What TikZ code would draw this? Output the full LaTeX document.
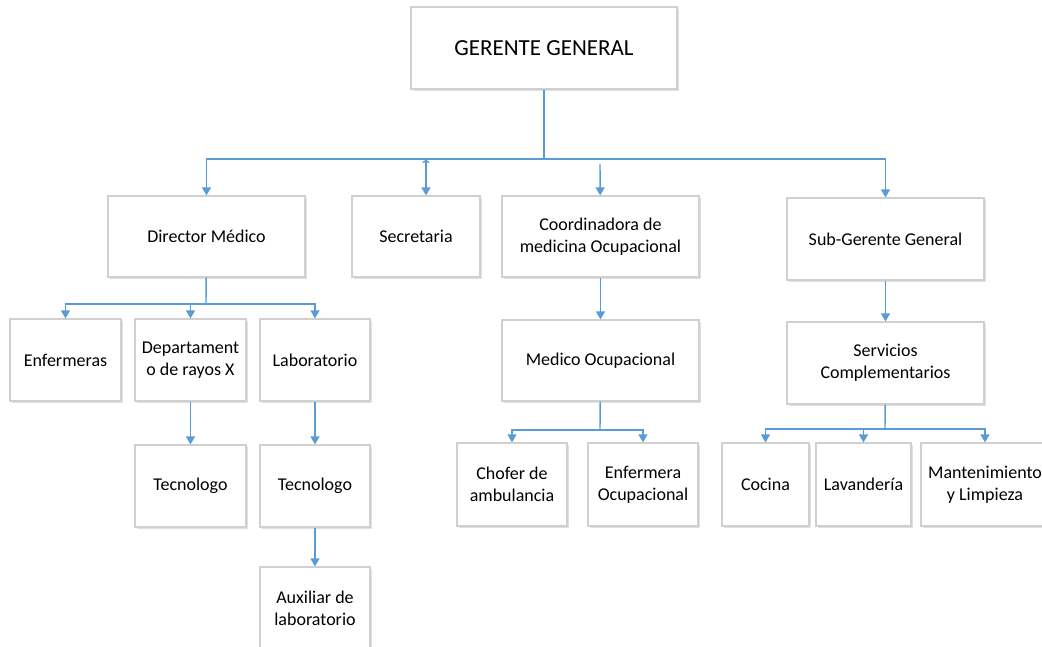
\documentclass[tikz,border=0pt]{standalone}
\usepackage{fontspec}
\setmainfont{Carlito}
\usepackage{tikz}
\usetikzlibrary{positioning,arrows.meta,shadows}
\definecolor{linkblue}{HTML}{5B9BD5}
\definecolor{boxgray}{HTML}{D0D0D0}
\tikzstyle{orgbox}=[draw=boxgray,line width=1.2pt,fill=white,inner sep=0pt,align=center,
  minimum height=82pt,font=\fontsize{18}{22}\selectfont,
  drop shadow={shadow xshift=1.5pt,shadow yshift=-1.5pt,opacity=0.12,fill=black}]
\tikzstyle{widebox}=[orgbox,minimum width=197pt]
\tikzstyle{smallbox}=[orgbox,minimum width=111pt]
\tikzstyle{line}=[draw=linkblue,line width=1.4pt]
\tikzstyle{link}=[line,-{Triangle[length=8pt,width=9pt]}]

\begin{document}
\begin{tikzpicture}[x=1pt,y=-1pt]
\useasboundingbox (0,0) rectangle (1042,646);
% top level
\node(ger)[orgbox,minimum width=266pt,font=\fontsize{23}{27}\selectfont] at (544,48) {GERENTE GENERAL};
\node(dir)[widebox,minimum height=81pt] at (206.5,236.5) {Director Médico};
\node(sec)[orgbox,minimum width=128pt,minimum height=81pt] at (416,236.5) {Secretaria};
\node(coord)[widebox,minimum height=81pt] at (600.5,236.5) {Coordinadora de\\medicina Ocupacional};
\node(subg)[widebox] at (885.5,239) {Sub-Gerente General};
% direccion medica
\node(enf)[smallbox] at (65.5,360) {Enfermeras};
\node(dep)[smallbox] at (190.5,360) {Departament\\o de rayos X};
\node(lab)[smallbox,minimum width=110pt] at (315,360) {Laboratorio};
\node(tecA)[smallbox] at (190.5,486) {Tecnologo};
\node(tecB)[smallbox,minimum width=110pt] at (315,486) {Tecnologo};
\node(aux)[smallbox,minimum width=110pt] at (315,608) {Auxiliar de\\laboratorio};
% medicina ocupacional
\node(med)[widebox,minimum height=81pt] at (600.5,360.5) {Medico Ocupacional};
\node(chof)[smallbox,minimum width=110pt,minimum height=83pt] at (512,484.5) {Chofer de\\ambulancia};
\node(enfoc)[smallbox,minimum width=110pt,minimum height=83pt] at (643,484.5) {Enfermera\\Ocupacional};
% servicios
\node(serv)[widebox] at (885.5,363) {Servicios\\Complementarios};
\node(coc)[orgbox,minimum width=87pt,minimum height=83pt] at (765.5,484.5) {Cocina};
\node(lav)[orgbox,minimum width=95pt,minimum height=83pt] at (863.5,484.5) {Lavandería};
\node(mant)[orgbox,minimum width=128pt,minimum height=83pt] at (985,484.5) {Mantenimiento\\y Limpieza};

\coordinate(busA) at (544,159);
\coordinate(busB) at (426,159);
\coordinate(busC) at (600,164);
\coordinate(busD) at (206,304);
\coordinate(busE) at (600,430);
\coordinate(busF) at (885,429);

\draw[line] (ger) -- (busA);
\draw[link] (busA) -| (dir);
\draw[link] (busA) -| (subg);
\draw[link] (busC) -- (coord);
\draw[link,{To[length=4pt,width=7pt]}-{Triangle[length=8pt,width=9pt]}] (busB) -- (busB |- sec.north);

\draw[line] (dir) -- (busD);
\draw[link] (busD) -| (enf);
\draw[link] (busD) -| (dep);
\draw[link] (busD) -| (lab);
\draw[link] (dep) -- (tecA);
\draw[link] (lab) -- (tecB);
\draw[link] (tecB) -- (aux);

\draw[link] (coord) -- (med);
\draw[line] (med) -- (busE);
\draw[link] (busE) -| (chof);
\draw[link] (busE) -| (enfoc);

\draw[link] (subg) -- (serv);
\draw[line] (serv) -- (busF);
\draw[link] (busF) -| (coc);
\draw[link] (busF) -| (lav);
\draw[link] (busF) -| (mant);
\end{tikzpicture}
\end{document}
